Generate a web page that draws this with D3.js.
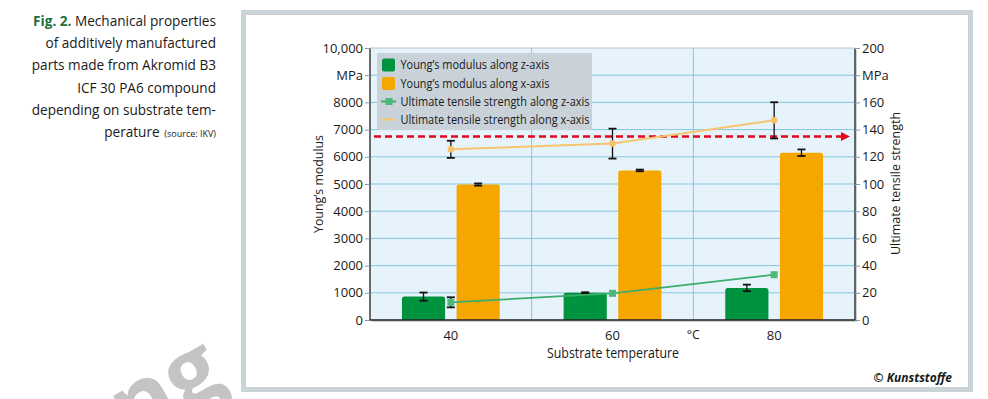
<!DOCTYPE html>
<html><head><meta charset="utf-8">
<script src="https://cdn.jsdelivr.net/npm/d3@7"></script>
<style>
body{margin:0;background:#fff}
svg{display:block}
text{font-family:"Open Sans","Noto Sans",sans-serif;fill:#1a1a1a}
</style>
</head><body>
<svg id="c" width="988" height="399"></svg>
<script>
// ---- data ----
const categories = ["40", "60", "80"];
const modulusZ = [860, 1000, 1180];
const modulusZErr = [150, 20, 120];
const modulusX = [4980, 5500, 6150];
const modulusXErr = [40, 30, 120];
const strengthZ = [13, 19.6, 33.3];
const strengthZErr = [3.7, 0, 0];
const strengthX = [125.5, 129.7, 146.8];
const strengthXErr = [6.3, 11, 13.3];
const strengthLimit = 135;
const leftTicks = [0, 1000, 2000, 3000, 4000, 5000, 6000, 7000, 8000, 9000, 10000];
const leftTickLabels = ["0", "1000", "2000", "3000", "4000", "5000", "6000", "7000", "8000", "MPa", "10,000"];
const rightTicks = [0, 20, 40, 60, 80, 100, 120, 140, 160, 180, 200];
const rightTickLabels = ["0", "20", "40", "60", "80", "100", "120", "140", "160", "MPa", "200"];
const legendLabels = ["Young\u2019s modulus along z-axis", "Young\u2019s modulus along x-axis",
  "Ultimate tensile strength along z-axis", "Ultimate tensile strength along x-axis"];
const captionLines = ["Mechanical properties", "of additively manufactured", "parts made from Akromid B3",
  "ICF 30 PA6 compound", "depending on substrate tem-", "perature"];

// ---- styles ----
const C = {green: "#00933f", orange: "#f5a700", lineZ: "#3cad6a", markZ: "#4fb779",
  lineX: "#f8c46f", markX: "#f7c26c", grid: "#86c6e0", plotBg: "#e6f3fb",
  legendBg: "#c9d2d8", frame: "#cad3d8", red: "#e2051c"};

const svg = d3.select("#c");

// watermark fragment
svg.append("text").attr("transform", "translate(132,443) rotate(-30)")
  .attr("font-size", 92).attr("font-weight", 700).style("fill", "#c4c4c4").text("ng");

// caption
const cap = svg.append("g");
captionLines.forEach((t, i) => {
  const tx = cap.append("text").attr("x", 216).attr("y", 26 + i * 22.2)
    .attr("text-anchor", "end").attr("font-size", 13.6);
  if (i === 0) {
    tx.append("tspan").attr("font-weight", 700).style("fill", "#1c7040").text("Fig. 2. ");
  }
  if (i === captionLines.length - 1) {
    tx.append("tspan").text(t);
    tx.append("tspan").attr("font-size", 9).text("\u00a0\u00a0(source: IKV)");
  } else tx.append("tspan").text(t);
});

// frame
svg.append("rect").attr("x", 243.5).attr("y", 12.5).attr("width", 727).attr("height", 377)
  .attr("fill", "#fff").attr("stroke", C.frame).attr("stroke-width", 5);

// scales
const L = 370, R = 855, T = 48, B = 320;
const x = d3.scaleBand().domain(categories).range([L, R]);
const xs = d3.scaleBand().domain(["z", "x"]).range([0, x.bandwidth()]).paddingInner(0.21).paddingOuter(0.585);
const yL = d3.scaleLinear().domain([0, 10000]).range([B, T]);
const yR = d3.scaleLinear().domain([0, 200]).range([B, T]);
const cx = c => x(c) + x.bandwidth() / 2;

// plot background
svg.append("rect").attr("x", L + 2).attr("y", T + 2).attr("width", R - L).attr("height", B - T)
  .attr("fill", "#9aa3a8").attr("opacity", 0.5);
svg.append("rect").attr("x", L).attr("y", T).attr("width", R - L).attr("height", B - T).attr("fill", C.plotBg);

// grid
svg.append("g").selectAll("line").data(leftTicks.slice(1, -1)).join("line")
  .attr("x1", L).attr("x2", R).attr("y1", d => yL(d)).attr("y2", d => yL(d))
  .attr("stroke", C.grid).attr("stroke-width", 1);
svg.append("g").selectAll("line").data(categories.slice(1)).join("line")
  .attr("x1", d => x(d)).attr("x2", d => x(d)).attr("y1", T).attr("y2", B)
  .attr("stroke", C.grid).attr("stroke-width", 1);

// legend box
const lg = svg.append("g");
lg.append("rect").attr("x", 377).attr("y", 53).attr("width", 215).attr("height", 77).attr("rx", 2)
  .attr("fill", C.legendBg);

// red limit arrow
const ya = yR(strengthLimit);
svg.append("line").attr("x1", L + 4).attr("x2", R - 10).attr("y1", ya).attr("y2", ya)
  .attr("stroke", C.red).attr("stroke-width", 2.5).attr("stroke-dasharray", "7,4");
svg.append("path").attr("d", `M${R - 14},${ya - 4.5}L${R - 5},${ya}L${R - 14},${ya + 4.5}Z`).attr("fill", C.red);

// bars
const barData = [];
categories.forEach((c, i) => {
  barData.push({c, k: "z", v: modulusZ[i], e: modulusZErr[i], col: C.green});
  barData.push({c, k: "x", v: modulusX[i], e: modulusXErr[i], col: C.orange});
});
svg.append("g").selectAll("path").data(barData).join("path")
  .attr("d", d => {
    const x0 = x(d.c) + xs(d.k), w = xs.bandwidth(), y0 = yL(d.v), r = 2.5;
    return `M${x0},${B}V${y0 + r}Q${x0},${y0} ${x0 + r},${y0}H${x0 + w - r}Q${x0 + w},${y0} ${x0 + w},${y0 + r}V${B}Z`;
  })
  .attr("fill", d => d.col);

function errBar(g, xc, y1, y2, cw) {
  g.append("line").attr("x1", xc).attr("x2", xc).attr("y1", y1).attr("y2", y2).attr("stroke", "#111").attr("stroke-width", 1.3);
  [y1, y2].forEach(y => g.append("line").attr("x1", xc - cw).attr("x2", xc + cw).attr("y1", y).attr("y2", y)
    .attr("stroke", "#111").attr("stroke-width", 1.8));
}
const eg = svg.append("g");
barData.forEach(d => {
  const xc = x(d.c) + xs(d.k) + xs.bandwidth() / 2;
  errBar(eg, xc, yL(d.v + d.e), yL(d.v - d.e), 4);
});

// lines
const lineGen = d3.line().x(d => cx(d.c)).y(d => yR(d.v));
const zPts = categories.map((c, i) => ({c, v: strengthZ[i], e: strengthZErr[i]}));
const xPts = categories.map((c, i) => ({c, v: strengthX[i], e: strengthXErr[i]}));
svg.append("path").attr("d", lineGen(zPts)).attr("fill", "none").attr("stroke", C.lineZ).attr("stroke-width", 1.8);
svg.append("path").attr("d", lineGen(xPts)).attr("fill", "none").attr("stroke", C.lineX).attr("stroke-width", 2);
const lg2 = svg.append("g");
zPts.forEach(d => { if (d.e > 0) errBar(lg2, cx(d.c), yR(d.v + d.e), yR(d.v - d.e), 4); });
xPts.forEach(d => { if (d.e > 0) errBar(lg2, cx(d.c), yR(d.v + d.e), yR(d.v - d.e), 4); });
svg.append("g").selectAll("rect").data(zPts).join("rect")
  .attr("x", d => cx(d.c) - 3.5).attr("y", d => yR(d.v) - 3.5).attr("width", 7).attr("height", 7).attr("fill", C.markZ);
svg.append("g").selectAll("circle").data(xPts).join("circle")
  .attr("cx", d => cx(d.c)).attr("cy", d => yR(d.v)).attr("r", 3.3).attr("fill", C.markX);

// plot border
svg.append("path").attr("d", `M${L},${T}V${B}H${R}V${T}`).attr("fill", "none").attr("stroke", "#222").attr("stroke-width", 1.3);
svg.append("line").attr("x1", L).attr("x2", R).attr("y1", T).attr("y2", T).attr("stroke", "#b8c4cc").attr("stroke-width", 1);

// legend items
const rows = [65, 83.5, 101.5, 119.5];
lg.raise();
lg.append("rect").attr("x", 382).attr("y", rows[0] - 6.5).attr("width", 13).attr("height", 13).attr("rx", 2).attr("fill", C.green);
lg.append("rect").attr("x", 382).attr("y", rows[1] - 6.5).attr("width", 13).attr("height", 13).attr("rx", 2).attr("fill", C.orange);
lg.append("line").attr("x1", 381).attr("x2", 396).attr("y1", rows[2]).attr("y2", rows[2]).attr("stroke", C.lineZ).attr("stroke-width", 2);
lg.append("rect").attr("x", 385.5).attr("y", rows[2] - 3.5).attr("width", 7).attr("height", 7).attr("fill", C.markZ);
lg.append("line").attr("x1", 381).attr("x2", 396).attr("y1", rows[3]).attr("y2", rows[3]).attr("stroke", C.lineX).attr("stroke-width", 2);
const lgW = [148.6, 149, 189, 189];
legendLabels.forEach((t, i) => {
  lg.append("text").attr("x", 400.5).attr("y", rows[i] + 4.3).attr("font-size", 12.3)
    .attr("textLength", lgW[i]).attr("lengthAdjust", "spacingAndGlyphs").text(t);
});

// axes
const axL = d3.axisLeft(yL).tickValues(leftTicks).tickFormat((d, i) => leftTickLabels[i]).tickSize(5).tickPadding(2);
const gL = svg.append("g").attr("transform", `translate(${L},0)`).call(axL);
const axR = d3.axisRight(yR).tickValues(rightTicks).tickFormat((d, i) => rightTickLabels[i]).tickSize(5).tickPadding(2);
const gR = svg.append("g").attr("transform", `translate(${R},0)`).call(axR);
const axB = d3.axisBottom(x).tickSize(0).tickPadding(8);
const gB = svg.append("g").attr("transform", `translate(0,${B})`).call(axB);
[gL, gR, gB].forEach(g => {
  g.select(".domain").remove();
  g.selectAll(".tick line").attr("stroke", "#7f9fb0");
  g.selectAll("text").attr("font-size", 13).attr("font-family", null).style("fill", "#1a1a1a");
});
gB.selectAll("text").attr("dy", "0.9em");
svg.append("text").attr("x", x("80")).attr("y", B + 19).attr("text-anchor", "middle").attr("font-size", 12.5).text("\u00b0C");

// axis titles
svg.append("text").attr("transform", `translate(323,184) rotate(-90)`).attr("text-anchor", "middle")
  .attr("font-size", 13.5).attr("textLength", 98).attr("lengthAdjust", "spacingAndGlyphs").text("Young\u2019s modulus");
svg.append("text").attr("transform", `translate(900,183.5) rotate(-90)`).attr("text-anchor", "middle")
  .attr("font-size", 13.5).attr("textLength", 143).attr("lengthAdjust", "spacingAndGlyphs").text("Ultimate tensile strength");
svg.append("text").attr("x", 613).attr("y", 358).attr("text-anchor", "middle")
  .attr("font-size", 14).attr("textLength", 132).attr("lengthAdjust", "spacingAndGlyphs").text("Substrate temperature");

// copyright
svg.append("text").attr("x", 952).attr("y", 382).attr("text-anchor", "end").attr("font-size", 12)
  .attr("font-family", "'Liberation Sans', Arial, sans-serif").attr("font-weight", 700)
  .text("\u00a9 ").append("tspan").attr("font-style", "italic").text("Kunststoffe");
</script>
</body></html>
